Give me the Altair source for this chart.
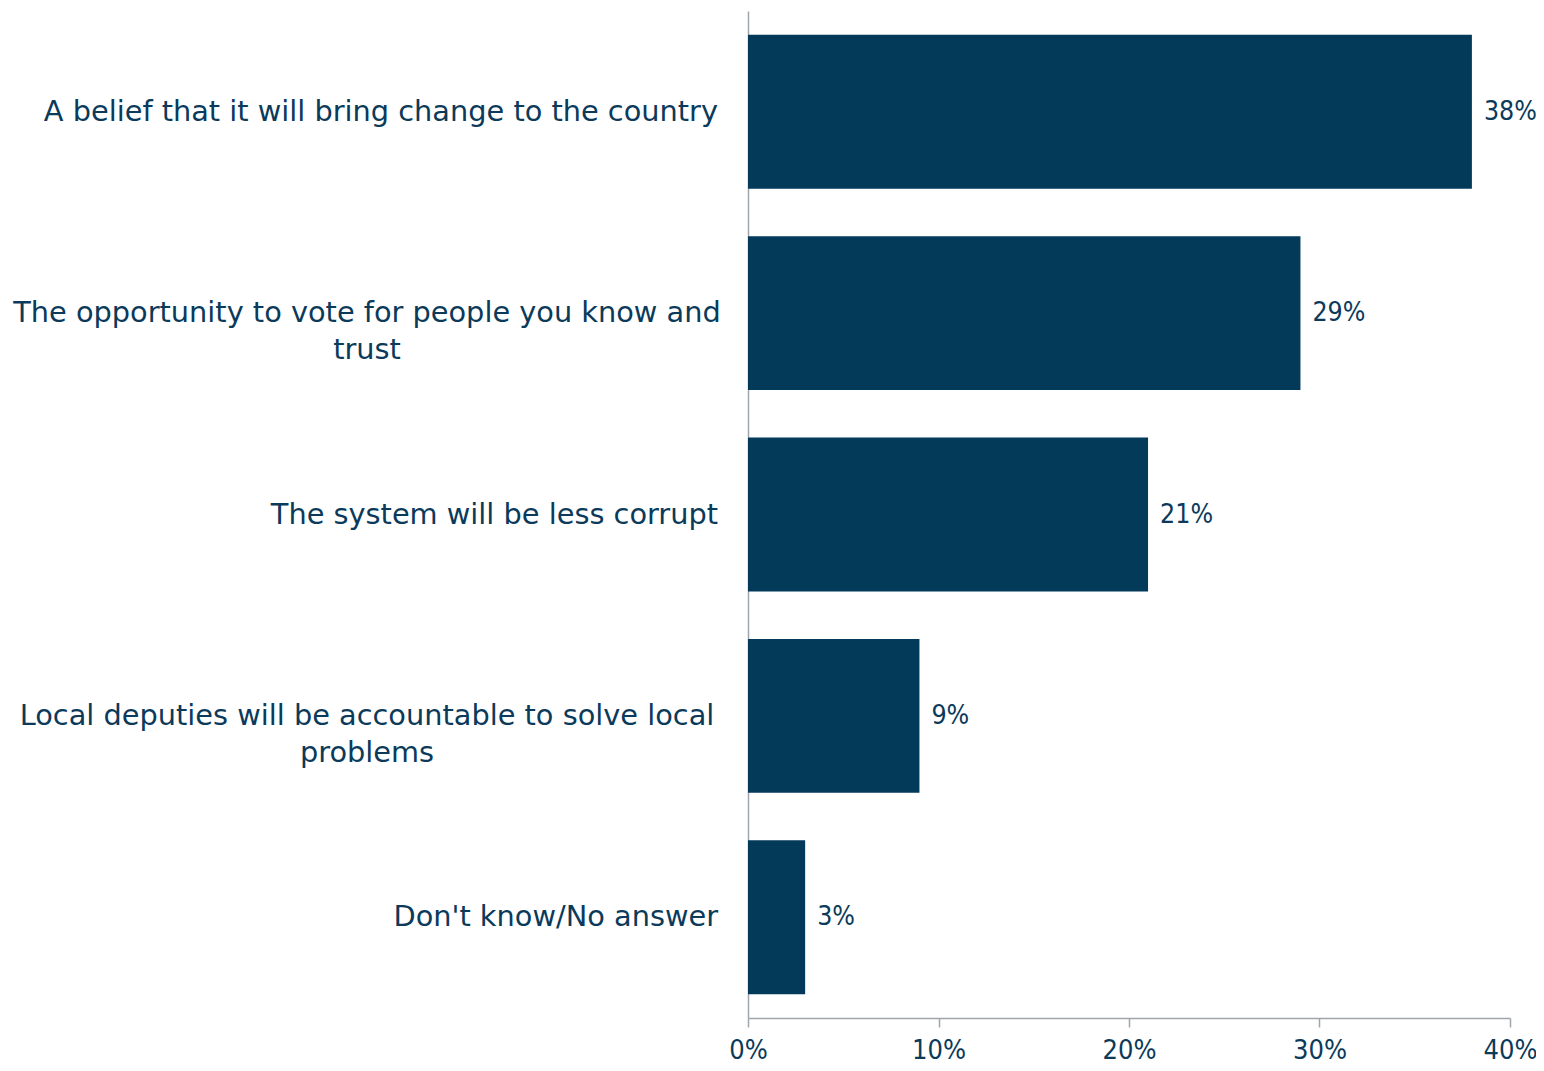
import altair as alt
import pandas as pd

categories = [
    "A belief that it will bring change to the country",
    "The opportunity to vote for people you know and trust",
    "The system will be less corrupt",
    "Local deputies will be accountable to solve local problems",
    "Don't know/No answer",
]
label_lines = [
    ["A belief that it will bring change to the country"],
    ["The opportunity to vote for people you know and", "trust"],
    ["The system will be less corrupt"],
    ["Local deputies will be accountable to solve local", "problems"],
    ["Don't know/No answer"],
]
values = [0.38, 0.29, 0.21, 0.09, 0.03]
x_ticks = [0, 0.1, 0.2, 0.3, 0.4]

FONT_LABEL = "DejaVu Sans, Open Sans"
FONT_NUM = "DejaVu Sans Condensed, Open Sans"
BAR = "#033a5a"
TXT = "#0b3a5a"
GRAY = "#a0a5ad"

df = pd.DataFrame({
    "category": categories,
    "value": values,
    "lines": label_lines,
    "multi": [len(l) > 1 for l in label_lines],
})

y_enc = alt.Y("category:N", sort=categories,
              scale=alt.Scale(paddingInner=0.236, paddingOuter=0.118),
              axis=alt.Axis(labels=False, ticks=False, title=None,
                            domainColor=GRAY, domainWidth=1.5))

base = alt.Chart(df)

bars = base.mark_bar(color=BAR).encode(
    x=alt.X("value:Q", scale=alt.Scale(domain=[0, 0.4]),
            axis=alt.Axis(values=x_ticks, format=".0%", title=None, grid=False,
                          domainColor=GRAY, tickColor=GRAY, tickSize=9,
                          domainWidth=1.5, tickWidth=1.5, labelFlush=False,
                          labelFont=FONT_NUM, labelFontSize=27, labelColor=TXT,
                          labelPadding=10)),
    y=y_enc,
)

values_text = base.mark_text(align="left", baseline="middle", dx=12,
                             font=FONT_NUM, fontSize=26.5, color=TXT).encode(
    x="value:Q",
    y=alt.Y("category:N", sort=categories),
    text=alt.Text("value:Q", format=".0%"),
)

single = base.transform_filter("!datum.multi").mark_text(
    align="right", baseline="middle", font=FONT_LABEL, fontSize=28.8, color=TXT
).encode(
    x=alt.value(-30),
    y=alt.Y("category:N", sort=categories),
    text="lines",
)

multi = base.transform_filter("datum.multi").mark_text(
    align="center", baseline="middle", font=FONT_LABEL, fontSize=28.8, color=TXT,
    lineHeight=37
).encode(
    x=alt.value(-381),
    y=alt.Y("category:N", sort=categories),
    text="lines",
)

chart = alt.layer(bars, values_text, single, multi).properties(
    width=762, height=1007,
    background="white",
    autosize=alt.AutoSizeParams(type="none"),
    padding={"left": 740, "top": 3, "right": 26, "bottom": 45},
).configure_view(stroke=None)

chart.save("out.html", embed_options={"renderer": "svg", "actions": False})
